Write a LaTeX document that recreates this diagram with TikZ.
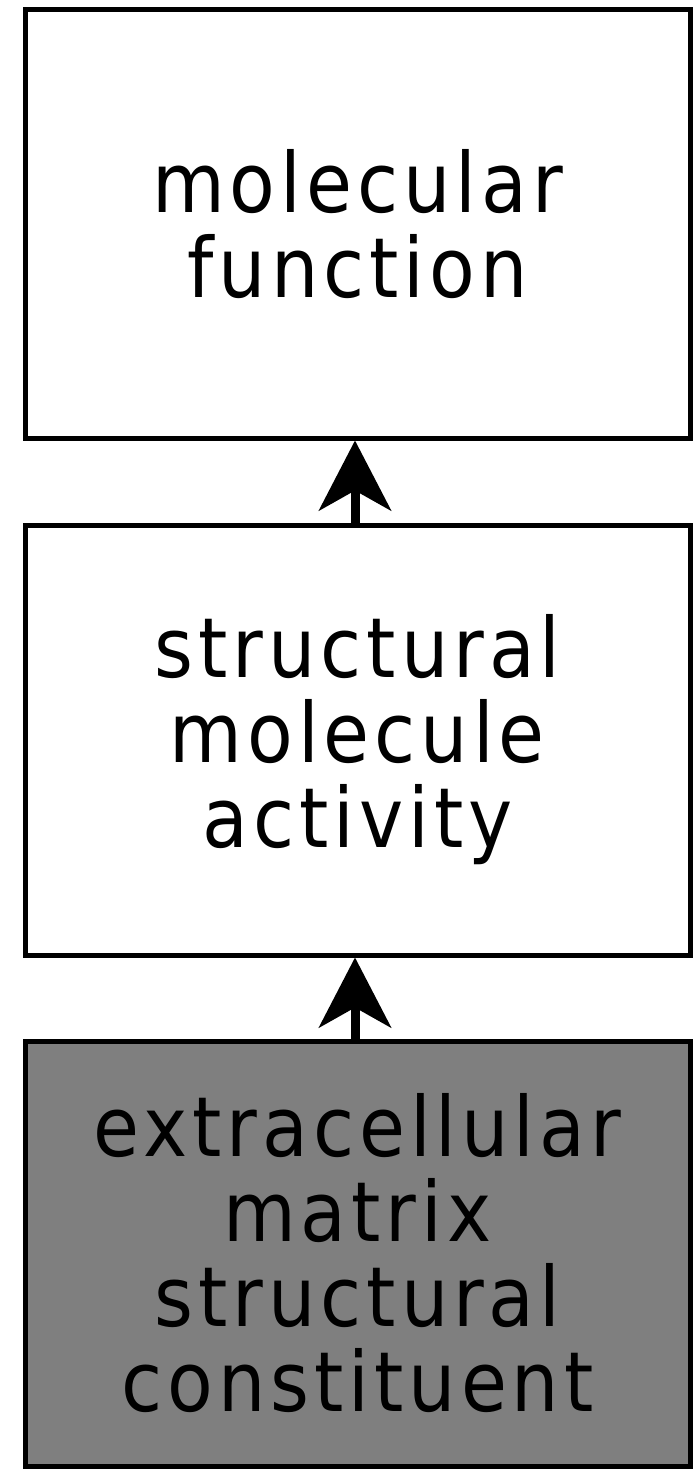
\documentclass[tikz,border=0pt]{standalone}
\usepackage{fontspec}
\setmainfont[LetterSpace=6]{DejaVu Sans Condensed}
\usetikzlibrary{arrows.meta}
\begin{document}
\begin{tikzpicture}[x=1pt,y=-1pt,
  term/.style={draw=black, line width=5pt, minimum width=665pt, inner sep=0pt,
    align=center, font=\fontsize{83}{85}\selectfont},
  isa/.style={line width=9pt, -{Stealth[length=70pt,width=72pt,inset=20pt]}}]
\useasboundingbox (0,0) rectangle (697,1469);
% GO term boxes, top to bottom
\node[term, fill=white, minimum height=428pt] (mf) at (357.5,224) {molecular\\function};
\node[term, fill=white, minimum height=430pt] (sma) at (357.5,740) {structural\\molecule\\activity};
\node[term, fill={rgb,255:red,127;green,127;blue,127}, minimum height=425pt] (ecm) at (357.5,1253.5) {extracellular\\matrix\\structural\\constituent};
% is_a edges
\draw[isa] (sma.north -| 355,0) -- (mf.south -| 355,0);
\draw[isa] (ecm.north -| 355,0) -- (sma.south -| 355,0);
\end{tikzpicture}
\end{document}
